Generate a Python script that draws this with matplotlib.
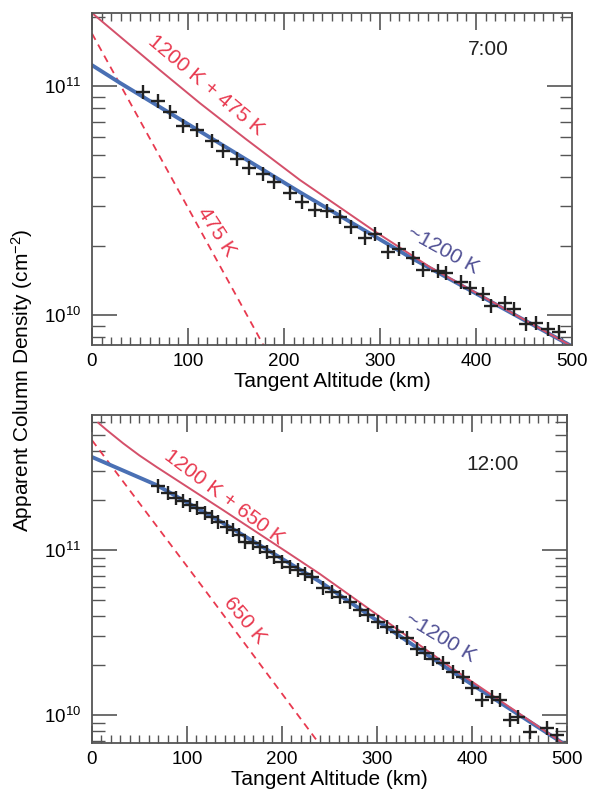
import numpy as np
import matplotlib
matplotlib.use("Agg")
import matplotlib.pyplot as plt
from matplotlib.ticker import LogLocator, MultipleLocator, NullFormatter, FixedLocator

plt.rcParams['font.family'] = ['Liberation Sans', 'DejaVu Sans']
plt.rcParams['mathtext.fontset'] = 'custom'
plt.rcParams['mathtext.rm'] = 'Liberation Sans'
plt.rcParams['mathtext.it'] = 'Liberation Sans:italic'

# ---- 7:00 panel ----
alt_07 = [53.1, 68.8, 81.3, 95.3, 109.4, 124.5, 136.5, 151.0, 163.5, 178.1, 190.1,
          206.3, 218.8, 232.3, 244.8, 258.3, 269.8, 284.9, 294.8, 308.3, 319.8,
          333.9, 344.8, 359.9, 368.8, 384.4, 393.8, 407.8, 416.1, 430.2, 440.1,
          452.6, 463.0, 475.5, 486.5]
col_07 = [9.42e10, 8.60e10, 7.74e10, 6.72e10, 6.43e10, 5.78e10, 5.20e10, 4.82e10,
          4.38e10, 4.13e10, 3.81e10, 3.41e10, 3.11e10, 2.88e10, 2.85e10, 2.68e10,
          2.43e10, 2.17e10, 2.26e10, 1.89e10, 1.95e10, 1.78e10, 1.57e10, 1.56e10,
          1.52e10, 1.39e10, 1.31e10, 1.24e10, 1.10e10, 1.13e10, 1.06e10, 9.14e9,
          9.27e9, 8.65e9, 8.43e9]

fit_alt_07 = [0, 29.2, 112.5, 216.7, 331.3, 500]
fit_hot_07 = [1.236e11, 1.034e11, 6.35e10, 3.44e10, 1.79e10, 7.3e9]
sum_alt_07 = [0, 70.8, 112.5, 160, 216.7, 260, 292.7, 352.1, 500]
sum_val_07 = [2.09e11, 1.175e11, 8.43e10, 5.89e10, 3.89e10, 2.92e10, 2.35e10, 1.62e10, 7.3e9]
cold_alt_07 = [0, 90, 185]
cold_val_07 = [1.70e11, 3.51e10, 6.6e9]

# ---- 12:00 panel ----
alt_12 = [69.8, 80.3, 88.4, 96.1, 103.2, 110.2, 118.9, 126.0, 132.9, 141.8, 148.7,
          154.7, 161.1, 169.8, 176.8, 183.9, 191.6, 199.7, 208.4, 217.2, 224.2,
          231.3, 243.5, 252.3, 261.1, 271.6, 282.1, 290.8, 301.4, 310.2, 320.7,
          331.3, 341.8, 350.5, 359.3, 369.8, 380.3, 390.8, 399.7, 410.2, 420.7,
          429.5, 440.0, 448.7, 461.1, 478.6, 489.2]
col_12 = [2.44e11, 2.22e11, 2.08e11, 1.99e11, 1.87e11, 1.79e11, 1.67e11, 1.59e11,
          1.49e11, 1.38e11, 1.33e11, 1.23e11, 1.12e11, 1.10e11, 1.04e11, 9.77e10,
          9.11e10, 8.49e10, 7.92e10, 7.57e10, 7.16e10, 6.89e10, 5.86e10, 5.59e10,
          5.21e10, 4.86e10, 4.33e10, 4.03e10, 3.68e10, 3.43e10, 3.20e10, 2.92e10,
          2.50e10, 2.36e10, 2.20e10, 2.06e10, 1.83e10, 1.71e10, 1.45e10, 1.23e10,
          1.29e10, 1.23e10, 9.33e9, 9.77e9, 7.93e9, 8.30e9, 7.57e9]

fit_alt_12 = [0, 68.1, 137.9, 240, 376.8, 500]
fit_hot_12 = [3.67e11, 2.48e11, 1.46e11, 6.43e10, 1.87e10, 6.5e9]
sum_alt_12 = [6.6, 15, 32.9, 50, 68.1, 137.9, 208.4, 240, 300, 376.8, 500]
sum_val_12 = [5.92e11, 5.38e11, 4.44e11, 3.75e11, 3.19e11, 1.75e11, 9.46e10,
              7.16e10, 4.06e10, 1.96e10, 6.5e9]
cold_alt_12 = [0, 118.9, 240]
cold_val_12 = [4.64e11, 5.72e10, 6.6e9]

RED = '#e8394f'
RED_LINE = '#d4506a'
BLUE = '#4a70b4'
BLUE_TXT = '#4f4f94'
SPINE = '#555555'


def style_axes(ax, ylim):
    ax.set_yscale('log')
    ax.set_xlim(0, 500)
    ax.set_ylim(*ylim)
    ax.xaxis.set_major_locator(MultipleLocator(100))
    ax.xaxis.set_minor_locator(MultipleLocator(10))
    ax.yaxis.set_major_locator(FixedLocator([1e10, 1e11]))
    ax.yaxis.set_minor_locator(LogLocator(base=10, subs=np.arange(2, 10), numticks=20))
    ax.yaxis.set_minor_formatter(NullFormatter())
    ax.set_yticklabels(['10$^{10}$', '10$^{11}$'])
    ax.tick_params(axis='x', which='major', direction='in', length=12, width=1.2,
                   top=True, labelsize=13.5, pad=6, color=SPINE)
    ax.tick_params(axis='x', which='minor', direction='in', length=6, width=1,
                   top=True, color=SPINE)
    ax.tick_params(axis='y', which='major', direction='in', length=18, width=1.2,
                   right=True, labelsize=13.5, pad=8, color=SPINE)
    ax.tick_params(axis='y', which='minor', direction='in', length=9, width=1,
                   right=True, color=SPINE)
    for s in ax.spines.values():
        s.set_color(SPINE)
        s.set_linewidth(1.3)
    ax.set_xlabel('Tangent Altitude (km)', fontsize=15, labelpad=1)


fig = plt.figure(figsize=(5.9, 8.01), dpi=100)
ax1 = fig.add_axes([0.1559, 0.5693, 0.8136, 0.4145])
ax2 = fig.add_axes([0.1559, 0.0724, 0.8051, 0.4095])

# top panel
ax1.plot(cold_alt_07, cold_val_07, color=RED, ls=(0, (4, 3)), lw=1.3)
ax1.plot(fit_alt_07, fit_hot_07, color=BLUE, lw=2.8)
ax1.plot(sum_alt_07, sum_val_07, color=RED_LINE, lw=1.4)
ax1.plot(alt_07, col_07, ls='none', marker='+', ms=9.5, mew=1.7, color='#222222')
style_axes(ax1, (7.4e9, 2.09e11))
ax1.text(118.75, 1.01e11, '1200 K + 475 K', color=RED, fontsize=15, rotation=-40,
         ha='center', va='center', rotation_mode='anchor')
ax1.text(130.2, 2.30e10, '475 K', color=RED, fontsize=15, rotation=-57,
         ha='center', va='center', rotation_mode='anchor')
ax1.text(365.6, 1.92e10, '~1200 K', color=BLUE_TXT, fontsize=15, rotation=-29,
         ha='center', va='center', rotation_mode='anchor')
ax1.text(0.825, 0.889, '7:00', transform=ax1.transAxes, fontsize=15,
         ha='center', va='center', color='#222222')

# bottom panel
ax2.plot(cold_alt_12, cold_val_12, color=RED, ls=(0, (4, 3)), lw=1.3)
ax2.plot(fit_alt_12, fit_hot_12, color=BLUE, lw=2.8)
ax2.plot(sum_alt_12, sum_val_12, color=RED_LINE, lw=1.4)
ax2.plot(alt_12, col_12, ls='none', marker='+', ms=9.5, mew=1.7, color='#222222')
style_axes(ax2, (6.76e9, 6.6e11))
ax2.text(138.9, 2.10e11, '1200 K + 650 K', color=RED, fontsize=15, rotation=-37,
         ha='center', va='center', rotation_mode='anchor')
ax2.text(161.1, 3.77e10, '650 K', color=RED, fontsize=15, rotation=-50,
         ha='center', va='center', rotation_mode='anchor')
ax2.text(367.4, 2.93e10, '~1200 K', color=BLUE_TXT, fontsize=15, rotation=-31,
         ha='center', va='center', rotation_mode='anchor')
ax2.text(0.844, 0.848, '12:00', transform=ax2.transAxes, fontsize=15,
         ha='center', va='center', color='#222222')

fig.text(22 / 590, 1 - 380 / 801, 'Apparent Column Density (cm$^{-2}$)',
         rotation=90, fontsize=15, ha='center', va='center')

fig.savefig('out.png', dpi=100)
